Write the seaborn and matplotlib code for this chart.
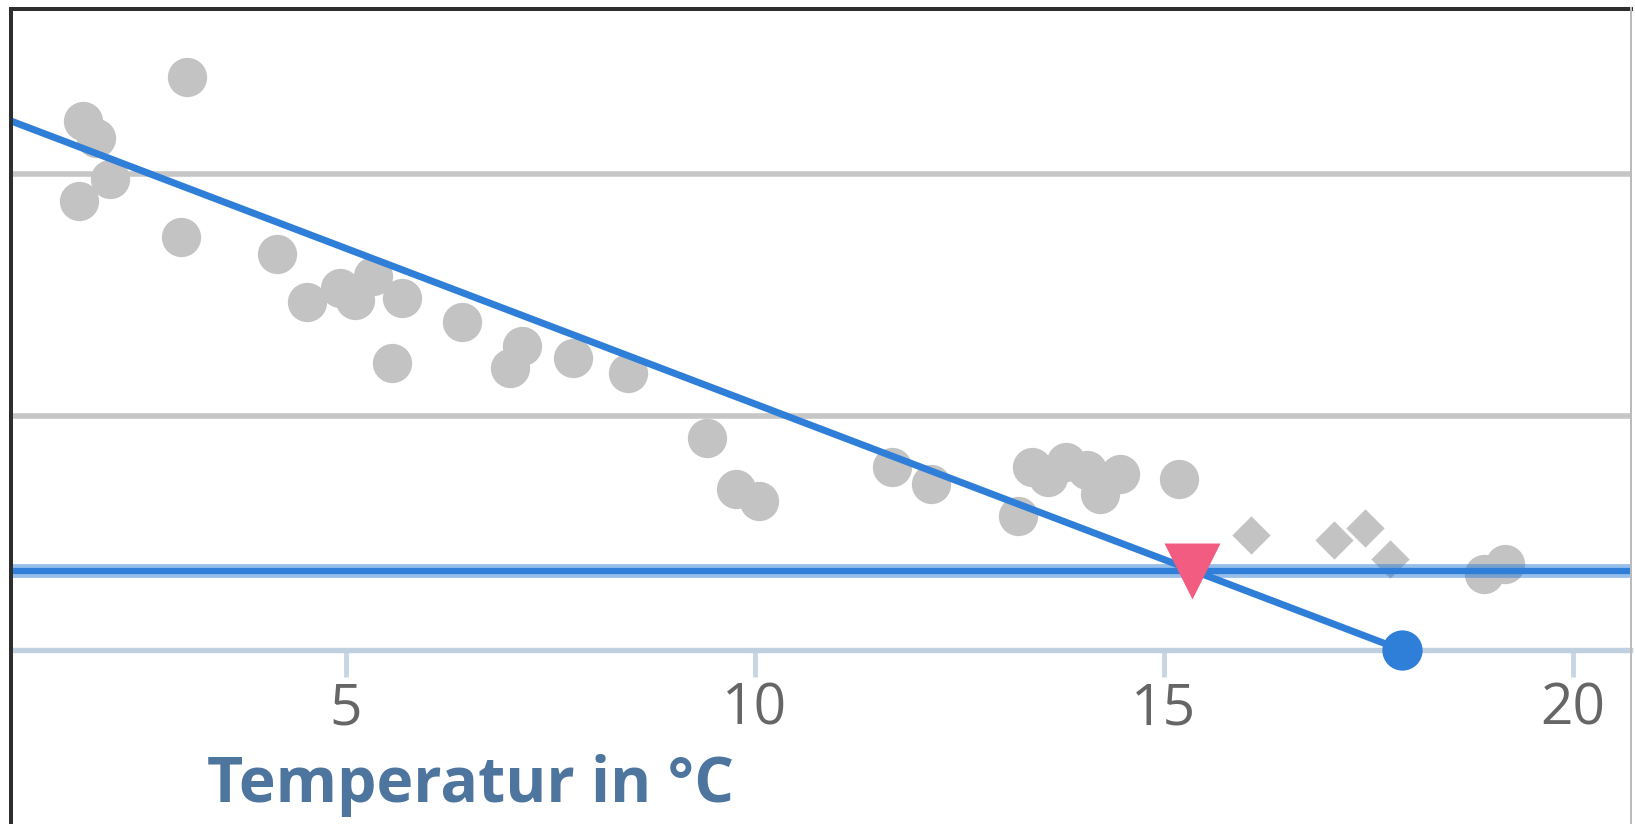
import matplotlib
matplotlib.use("Agg")
import matplotlib.pyplot as plt
from matplotlib.patches import Rectangle
import seaborn as sns
import pandas as pd

# Messwerte (Kreise)
temp = [3.06, 1.78, 1.94, 2.11, 1.74, 2.98, 4.16, 4.52, 4.93, 5.11, 5.33,
        5.69, 5.56, 6.42, 7.15, 7.01, 7.78, 8.45, 9.41, 9.77, 10.05, 11.67,
        12.15, 13.22, 13.39, 13.58, 13.80, 14.06, 14.22, 14.47, 15.18, 18.91, 19.17]
wert = [2.40, 2.22, 2.15, 1.98, 1.89, 1.74, 1.67, 1.47, 1.53, 1.48, 1.58,
        1.49, 1.22, 1.39, 1.29, 1.20, 1.24, 1.18, 0.91, 0.70, 0.65, 0.79,
        0.72, 0.59, 0.79, 0.75, 0.81, 0.78, 0.68, 0.76, 0.74, 0.35, 0.39]

# Messwerte (Rauten)
temp_d = [16.07, 17.08, 17.46, 17.77]
wert_d = [0.51, 0.49, 0.54, 0.41]

# Gerade, Grundlast, Schnittpunkt, Heizgrenze
gerade_x = [0.0, 17.91]
gerade_y = [2.335, 0.035]
grundlast = 0.363
schnitt_x = [15.34]
schnitt_y = [0.363]
grenze_x = [17.91]
grenze_y = [0.035]

x_ticks = [5, 10, 15, 20]
grid_y = [1, 2]

df = pd.DataFrame({"temp": temp, "wert": wert})
df_d = pd.DataFrame({"temp": temp_d, "wert": wert_d})
df_g = pd.DataFrame({"temp": gerade_x, "wert": gerade_y})

sns.set_style("white")
plt.rcParams["font.family"] = ["Open Sans", "DejaVu Sans"]

W, H = 1635, 824
fig = plt.figure(figsize=(W / 100, H / 100), dpi=100)
ax = fig.add_axes([13 / W, 1 - 650 / H, (1630 - 13) / W, (650 - 11) / H])

grau = "#c3c3c3"
blau = "#2f7ed8"

sns.scatterplot(data=df, x="temp", y="wert", ax=ax, color=grau, s=800,
                marker="o", linewidth=0, zorder=2)
sns.scatterplot(data=df_d, x="temp", y="wert", ax=ax, color=grau, s=380,
                marker="D", linewidth=0, zorder=2)

ax.axhline(grundlast, color=blau, lw=9.9, alpha=0.5, zorder=3)
ax.axhline(grundlast, color=blau, lw=4.5, zorder=3)

sns.lineplot(data=df_g, x="temp", y="wert", ax=ax, color=blau, lw=5.0,
             zorder=3, solid_capstyle="butt")

ax.scatter(schnitt_x, schnitt_y, marker="v", s=40.3 ** 2, color="#f15c80",
           linewidth=0, zorder=4)
ax.scatter(grenze_x, grenze_y, marker="o", s=29 ** 2, color=blau,
           linewidth=0, zorder=5, clip_on=False)

ax.set_xlim(0.928, 20.70)
ax.set_ylim(0.035, 2.673)

ax.set_xticks(x_ticks)
ax.set_xticklabels([str(t) for t in x_ticks])
ax.set_yticks(grid_y)
ax.tick_params(axis="y", left=False, length=0, labelleft=False)
ax.tick_params(axis="x", bottom=True, length=19.4, width=3.5, color="#c8d5e3",
               labelsize=41, labelcolor="#666666", pad=3, direction="out")

ax.grid(False)
ax.yaxis.grid(True, color="#c6c6c6", lw=4)
ax.set_axisbelow(True)

for side in ["top", "left", "right"]:
    ax.spines[side].set_visible(False)
ax.spines["bottom"].set_color("#c0d0e0")
ax.spines["bottom"].set_linewidth(3.9)

ax.set_ylabel("")
ax.set_xlabel("Temperatur in °C", fontsize=45, fontweight="bold",
              color="#4d759e")
ax.xaxis.set_label_coords(0.2829, -0.2374)
ax.xaxis.label.set_va("baseline")

# Rahmen des Ausschnitts
fig.add_artist(Rectangle((9 / W, 0), 4 / W, 1 - 7 / H, transform=fig.transFigure,
                         color="#2e2e2e", lw=0))
fig.add_artist(Rectangle((9 / W, 1 - 11 / H), (1633 - 9) / W, 4 / H,
                         transform=fig.transFigure, color="#2e2e2e", lw=0))
fig.add_artist(Rectangle((1630 / W, 0), 1.5 / W, 1 - 7 / H,
                         transform=fig.transFigure, color="#bbbbbb", lw=0))

fig.savefig("out.png", dpi=100, facecolor="white")
